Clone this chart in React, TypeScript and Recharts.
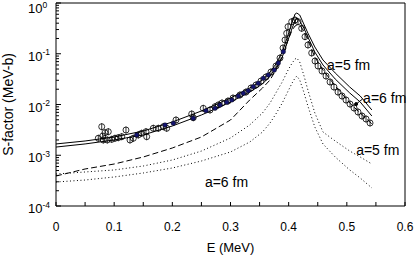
import React from "react";
import { ComposedChart, Line, Scatter, XAxis, YAxis, ReferenceLine, ReferenceDot, Label } from "recharts";

// energy grid (MeV) shared by the model curves
const energy = [0, 0.05, 0.1, 0.15, 0.2, 0.25, 0.3, 0.333, 0.355, 0.368, 0.378, 0.389, 0.399, 0.406, 0.411, 0.414, 0.419, 0.426, 0.433, 0.445, 0.459, 0.48, 0.505, 0.523, 0.543];

// S-factor curves (MeV-b)
const solidA5 = [1.67e-3, 1.91e-3, 2.29e-3, 3.0e-3, 4.52e-3, 7.45e-3, 1.34e-2, 2.11e-2, 3.04e-2, 4.37e-2, 6.28e-2, 0.108, 0.234, 0.422, 0.607, 0.635, 0.58, 0.386, 0.256, 0.136, 0.0753, 0.0418, 0.0221, 0.0147, 0.0078];
const solidA6 = [1.45e-3, 1.67e-3, 2.0e-3, 2.51e-3, 3.77e-3, 6.21e-3, 1.12e-2, 1.76e-2, 2.54e-2, 3.64e-2, 5.24e-2, 0.0863, 0.187, 0.322, 0.442, 0.506, 0.442, 0.322, 0.214, 0.108, 0.06, 0.0318, 0.01686, 0.0112, 0.00593];
const dashed = [3.9e-4, 5.36e-4, 6.72e-4, 9.24e-4, 1.39e-3, 2.29e-3, 4.95e-3, 1.227e-2, 2.11e-2, 3.04e-2, 4.78e-2, 8.63e-2, 0.187, 0.294, 0.352, 0.368, 0.368, 0.281, 0.187, 0.0863, 0.0478, 0.0233, 0.0107, 0.0068, 0.00416];
const dottedA5 = [4.27e-4, 4.68e-4, 5.13e-4, 6.14e-4, 8.06e-4, 1.21e-3, 2.19e-3, 3.95e-3, 6.8e-3, 1.07e-2, 1.69e-2, 2.79e-2, 4.78e-2, 6.57e-2, 7.87e-2, 8.25e-2, 6.88e-2, 3.8e-2, 1.94e-2, 6.8e-3, 2.87e-3, 1.91e-3, 1.21e-3, 9.24e-4, 6.72e-4];
const dottedA6 = [2.97e-4, 3.25e-4, 3.73e-4, 4.47e-4, 5.61e-4, 7.7e-4, 1.16e-3, 1.82e-3, 2.87e-3, 4.33e-3, 6.5e-3, 1.07e-2, 1.84e-2, 2.66e-2, 3.33e-2, 3.64e-2, 3.04e-2, 1.76e-2, 9.34e-3, 3.6e-3, 1.67e-3, 9.24e-4, 5.13e-4, 3.56e-4, 2.27e-4];

// measured points, open circles
const obsE = [0.0727, 0.0786, 0.0803, 0.0813, 0.0842, 0.0882, 0.0899, 0.0958, 0.1014, 0.1071, 0.113, 0.1203, 0.1272, 0.1329, 0.1415, 0.1473, 0.1547, 0.1559, 0.1673, 0.1759, 0.1845, 0.1903, 0.2063, 0.2333, 0.236, 0.2532, 0.2648, 0.2734, 0.279, 0.2854, 0.2957, 0.3043, 0.3163, 0.3266, 0.3352, 0.3438, 0.3524, 0.361, 0.3696, 0.3782, 0.3851, 0.3903, 0.3937, 0.3966, 0.3989, 0.4052, 0.4109, 0.4161, 0.4224, 0.4281, 0.4332, 0.4396, 0.4453, 0.4505, 0.4573, 0.4642, 0.4711, 0.4779, 0.4848, 0.4917, 0.4986, 0.5055, 0.5124, 0.5192, 0.5261, 0.533, 0.5399];
const obsS = [2.16e-3, 3.65e-3, 2.39e-3, 2.0e-3, 2.78e-3, 2.0e-3, 2.91e-3, 2.06e-3, 2.16e-3, 2.22e-3, 2.32e-3, 3.14e-3, 2.0e-3, 2.16e-3, 2.51e-3, 2.71e-3, 2.91e-3, 2.32e-3, 3.4e-3, 3.4e-3, 3.65e-3, 3.4e-3, 4.95e-3, 6.5e-3, 5.5e-3, 8.4e-3, 7.8e-3, 9.05e-3, 9.78e-3, 1.07e-2, 1.17e-2, 1.34e-2, 1.54e-2, 1.76e-2, 2.11e-2, 2.42e-2, 2.9e-2, 3.48e-2, 4.37e-2, 5.74e-2, 8.25e-2, 0.13, 0.187, 0.253, 0.341, 0.428, 0.462, 0.428, 0.317, 0.217, 0.149, 0.1035, 0.072, 0.0574, 0.0457, 0.0364, 0.0278, 0.0221, 0.0176, 0.0147, 0.01227, 0.0102, 8.53e-3, 7.12e-3, 5.93e-3, 5.18e-3, 4.32e-3];

// measured points, filled dots
const dotE = [0.1387, 0.1874, 0.2017, 0.236, 0.2579, 0.2734, 0.282, 0.2935, 0.3021, 0.3134, 0.322, 0.3306, 0.3392, 0.3478, 0.3564, 0.365, 0.3753, 0.3822, 0.3908];
const dotS = [2.51e-3, 3.95e-3, 4.26e-3, 5.35e-3, 7.55e-3, 8.42e-3, 9.78e-3, 1.105e-2, 1.227e-2, 1.47e-2, 1.66e-2, 1.87e-2, 2.24e-2, 2.62e-2, 3.28e-2, 3.81e-2, 4.78e-2, 6.57e-2, 0.11];

const xTicks = [0, 0.05, 0.1, 0.15, 0.2, 0.25, 0.3, 0.35, 0.4, 0.45, 0.5, 0.55, 0.6];
const xLabels = ["0", "", "0.1", "", "0.2", "", "0.3", "", "0.4", "", "0.5", "", "0.6"];
const yDecades = [1e-4, 1e-3, 1e-2, 1e-1, 1];
const yExponents = ["-4", "-3", "-2", "-1", "0"];

const FONT = "Liberation Sans, Arial, sans-serif";

const curve = (ys: number[]) => energy.map((x, i) => ({ x, y: ys[i] }));
const points = (xs: number[], ys: number[]) => xs.map((x, i) => ({ x, y: ys[i] }));

const yTicks: number[] = [];
yDecades.forEach((d, i) => {
  if (i === yDecades.length - 1) { yTicks.push(d); return; }
  for (let m = 1; m < 10; m++) yTicks.push(+(d * m).toPrecision(3));
});

const XTick = (props: any) => {
  const { x, y, index } = props;
  return (
    <g>
      <line x1={x} x2={x} y1={y} y2={y - 4} stroke="#000" />
      <text x={x} y={y + 25} textAnchor="middle" fontSize={12} fontFamily={FONT} fill="#000">
        {xLabels[index]}
      </text>
    </g>
  );
};

const YTick = (props: any) => {
  const { x, y, payload } = props;
  const i = yDecades.indexOf(payload.value);
  const base = Math.max(y + 7, 13);
  return (
    <g>
      <line x1={x} x2={x + (i >= 0 ? 5 : 3)} y1={y} y2={y} stroke="#000" />
      {i >= 0 && (
        <text x={28} y={base} fontSize={13} fontFamily={FONT} fill="#000">
          10<tspan dy={-5.5} fontSize={8.5}>{yExponents[i]}</tspan>
        </text>
      )}
    </g>
  );
};

const OpenCircle = (props: any) => {
  const { cx, cy } = props;
  return (
    <g>
      <circle cx={cx} cy={cy} r={3} fill="none" stroke="#000" strokeWidth={0.8} />
      <line x1={cx} x2={cx} y1={cy - 3.5} y2={cy + 3.5} stroke="#000" strokeWidth={0.8} />
    </g>
  );
};

const FilledDot = (props: any) => {
  const { cx, cy } = props;
  return <circle cx={cx} cy={cy} r={2.3} fill="#14146e" stroke="#000" strokeWidth={0.4} />;
};

const note = (text: string) => (props: any) => (
  <text x={props.cx} y={props.cy + 5} fontSize={14} fontFamily={FONT} fill="#000">
    {text}
  </text>
);

export default function App() {
  return (
    <div style={{ position: "absolute", left: 0, top: 0, background: "#fff" }}>
      <ComposedChart width={415} height={255} margin={{ top: 3, right: 10, bottom: 0, left: 0 }}>
        <XAxis
          type="number"
          dataKey="x"
          domain={[0, 0.6]}
          allowDataOverflow
          ticks={xTicks}
          interval={0}
          height={49}
          tickSize={0}
          tickMargin={0}
          tickLine={false}
          tick={<XTick />}
          axisLine={{ stroke: "#000" }}
        >
          <Label
            content={(p: any) => (
              <text x={p.viewBox.x + p.viewBox.width / 2} y={p.viewBox.y + 46} textAnchor="middle" fontSize={13} fontFamily={FONT} fill="#000">
                E (MeV)
              </text>
            )}
          />
        </XAxis>
        <YAxis
          type="number"
          dataKey="y"
          scale="log"
          domain={[1e-4, 1]}
          allowDataOverflow
          ticks={yTicks}
          interval={0}
          width={56}
          tickSize={0}
          tickMargin={0}
          tickLine={false}
          tick={<YTick />}
          axisLine={{ stroke: "#000" }}
        >
          <Label
            content={(p: any) => {
              const cx = 13;
              const cy = p.viewBox.y + p.viewBox.height / 2;
              return (
                <text x={cx} y={cy} transform={`rotate(-90 ${cx} ${cy})`} textAnchor="middle" fontSize={14} fontFamily={FONT} fill="#000">
                  S-factor (MeV-b)
                </text>
              );
            }}
          />
        </YAxis>
        <ReferenceLine y={1} stroke="#000" />
        <ReferenceLine x={0.6} stroke="#000" />

        <Line data={curve(dottedA6)} dataKey="y" type="linear" stroke="#000" strokeWidth={1} strokeDasharray="1 2.5" dot={false} isAnimationActive={false} />
        <Line data={curve(dottedA5)} dataKey="y" type="linear" stroke="#000" strokeWidth={1} strokeDasharray="1 2.5" dot={false} isAnimationActive={false} />
        <Line data={curve(dashed)} dataKey="y" type="linear" stroke="#000" strokeWidth={1} strokeDasharray="6 3" dot={false} isAnimationActive={false} />
        <Line data={curve(solidA6)} dataKey="y" type="linear" stroke="#000" strokeWidth={1} dot={false} isAnimationActive={false} />
        <Line data={curve(solidA5)} dataKey="y" type="linear" stroke="#000" strokeWidth={1} dot={false} isAnimationActive={false} />

        <Scatter data={points(obsE, obsS)} dataKey="y" shape={<OpenCircle />} isAnimationActive={false} />
        <Scatter data={points(dotE, dotS)} dataKey="y" shape={<FilledDot />} isAnimationActive={false} />

        <ReferenceLine segment={[{ x: 0.527, y: 0.0128 }, { x: 0.516, y: 0.0102 }]} stroke="#000" />
        <ReferenceDot x={0.516} y={0.0102} r={1.5} fill="#000" stroke="#000" />
        <ReferenceDot x={0.466} y={0.06} shape={note("a=5 fm")} />
        <ReferenceDot x={0.528} y={0.0134} shape={note("a=6 fm")} />
        <ReferenceDot x={0.516} y={0.00127} shape={note("a=5 fm")} />
        <ReferenceDot x={0.256} y={2.97e-4} shape={note("a=6 fm")} />
      </ComposedChart>
    </div>
  );
}
